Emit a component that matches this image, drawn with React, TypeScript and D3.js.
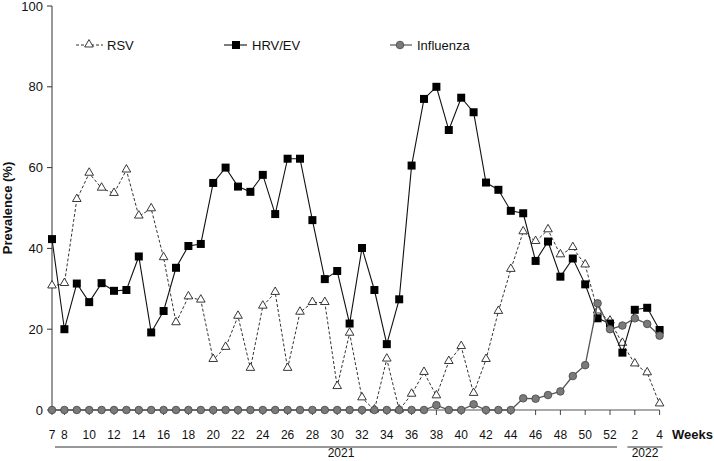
import React from "react";
import * as d3 from "d3";

const weeks: number[] = [7,8,9,10,11,12,13,14,15,16,17,18,19,20,21,22,23,24,25,26,27,28,29,30,31,32,33,34,35,36,37,38,39,40,41,42,43,44,45,46,47,48,49,50,51,52,1,2,3,4];
const tickWeeks: number[] = [7,8,10,12,14,16,18,20,22,24,26,28,30,32,34,36,38,40,42,44,46,48,50,52,2,4];
const hrv: number[] = [42.3,20.0,31.3,26.7,31.4,29.5,29.7,38.0,19.2,24.5,35.2,40.6,41.1,56.2,60.0,55.3,54.0,58.2,48.5,62.2,62.2,47.0,32.4,34.4,21.4,40.1,29.7,16.3,27.4,60.5,77.0,80.0,69.3,77.3,73.7,56.3,54.5,49.3,48.7,36.9,41.7,33.0,37.5,31.1,22.7,21.4,14.2,24.8,25.3,19.8];
const rsv: number[] = [30.7,31.3,52.1,58.6,54.9,53.6,59.4,48.0,49.8,37.7,21.6,28.0,27.2,12.5,15.5,23.2,10.3,25.7,29.1,10.3,24.2,26.6,26.6,5.8,19.0,3.0,0,12.6,0,3.9,9.3,3.5,12.0,15.7,4.1,12.5,24.4,34.8,44.1,41.7,44.6,38.4,40.2,35.9,24.5,22.0,16.5,11.4,9.2,1.5];
const flu: number[] = [0,0,0,0,0,0,0,0,0,0,0,0,0,0,0,0,0,0,0,0,0,0,0,0,0,0,0,0,0,0,0,1.2,0,0,1.4,0,0,0,2.9,2.8,3.7,4.6,8.4,11.1,26.4,20.0,20.9,22.7,21.3,18.4];
const yTicks: number[] = [0,20,40,60,80,100];
const seriesNames: string[] = ["RSV","HRV/EV","Influenza"];
const years: string[] = ["2021","2022"];

const W = 714, H = 461;
const FONT = "'Liberation Sans', Arial, sans-serif";

export default function App() {
  const x = d3.scaleLinear().domain([0, weeks.length - 1]).range([52, 659.6]);
  const y = d3.scaleLinear().domain([0, 100]).range([410, 6]);
  const line = d3.line<number>().x((_, i) => x(i)).y((d) => y(d));
  const tri = d3.symbol().type(d3.symbolTriangle).size(32)()!;
  const sq = d3.symbol().type(d3.symbolSquare).size(64)()!;

  const idxOfWeek = (w: number, second: boolean) => {
    if (second) return weeks.lastIndexOf(w);
    return weeks.indexOf(w);
  };
  const tickIdx = tickWeeks.map((w, i) => idxOfWeek(w, i >= tickWeeks.length - 2));

  const lastIdx2021 = weeks.indexOf(52);
  const firstIdx2022 = weeks.lastIndexOf(1);

  return (
    <div style={{ position: "fixed", left: 0, top: 0 }}>
      <svg width={W} height={H} style={{ display: "block", background: "#fff" }} fontFamily={FONT}>
        {/* y axis */}
        <line x1={x(0)} x2={x(0)} y1={y(100)} y2={y(0)} stroke="#333" strokeWidth={1} />
        {yTicks.map((t) => (
          <g key={t}>
            <line x1={x(0) - 5} x2={x(0)} y1={y(t)} y2={y(t)} stroke="#333" />
            <text x={x(0) - 9} y={y(t)} dy="0.35em" textAnchor="end" fontSize={13} fill="#111">{t}</text>
          </g>
        ))}
        <text transform={`translate(12,208) rotate(-90)`} textAnchor="middle" fontSize={13} fontWeight="bold" fill="#111">Prevalence (%)</text>

        {/* x axis */}
        <line x1={x(0)} x2={x(weeks.length - 1)} y1={y(0)} y2={y(0)} stroke="#555" strokeWidth={1.2} />
        {tickIdx.map((i, k) => (
          <g key={k}>
            <line x1={x(i)} x2={x(i)} y1={y(0)} y2={y(0) + 5} stroke="#444" />
            <text x={x(i)} y={439} textAnchor="middle" fontSize={12} fill="#111">{tickWeeks[k]}</text>
          </g>
        ))}
        <text x={672} y={439} fontSize={13} fontWeight="bold" fill="#111">Weeks</text>
        <line x1={x(0) + 3} x2={x(lastIdx2021) + 7} y1={447} y2={447} stroke="#333" />
        <text x={(x(0) + x(lastIdx2021)) / 2 + 10} y={457} textAnchor="middle" fontSize={12} fill="#111">{years[0]}</text>
        <line x1={x(firstIdx2022) + 5} x2={x(weeks.length - 1) + 3} y1={447} y2={447} stroke="#333" />
        <text x={(x(firstIdx2022) + x(weeks.length - 1)) / 2 + 4} y={457} textAnchor="middle" fontSize={12} fill="#111">{years[1]}</text>

        {/* RSV */}
        <path d={line(rsv)!} fill="none" stroke="#333" strokeWidth={1} strokeDasharray="3,2" />
        {rsv.map((v, i) => (
          <path key={i} d={tri} transform={`translate(${x(i)},${y(v) - 0.5})`} fill="#fff" stroke="#222" strokeWidth={0.9} />
        ))}

        {/* HRV/EV */}
        <path d={line(hrv)!} fill="none" stroke="#111" strokeWidth={1.1} />
        {hrv.map((v, i) => (
          <path key={i} d={sq} transform={`translate(${x(i)},${y(v)})`} fill="#000" />
        ))}

        {/* Influenza */}
        <path d={line(flu)!} fill="none" stroke="#555" strokeWidth={1.3} />
        {flu.map((v, i) => (
          <circle key={i} cx={x(i)} cy={y(v)} r={3.8} fill="#7a7a7a" stroke="#444" strokeWidth={0.8} />
        ))}

        {/* legend */}
        <g>
          <line x1={76} x2={103} y1={45} y2={45} stroke="#333" strokeDasharray="3,2" />
          <path d={tri} transform={`translate(89,44.5)`} fill="#fff" stroke="#222" strokeWidth={0.9} />
          <text x={107} y={45} dy="0.35em" fontSize={13} fill="#111">{seriesNames[0]}</text>

          <line x1={224} x2={247} y1={45} y2={45} stroke="#111" strokeWidth={1.1} />
          <path d={sq} transform={`translate(236,45)`} fill="#000" />
          <text x={252} y={45} dy="0.35em" fontSize={13} fill="#111">{seriesNames[1]}</text>

          <line x1={390} x2={412} y1={45} y2={45} stroke="#555" strokeWidth={1.2} />
          <circle cx={400} cy={45} r={3.8} fill="#7a7a7a" stroke="#444" strokeWidth={0.8} />
          <text x={417} y={45} dy="0.35em" fontSize={13} fill="#111">{seriesNames[2]}</text>
        </g>
      </svg>
    </div>
  );
}
